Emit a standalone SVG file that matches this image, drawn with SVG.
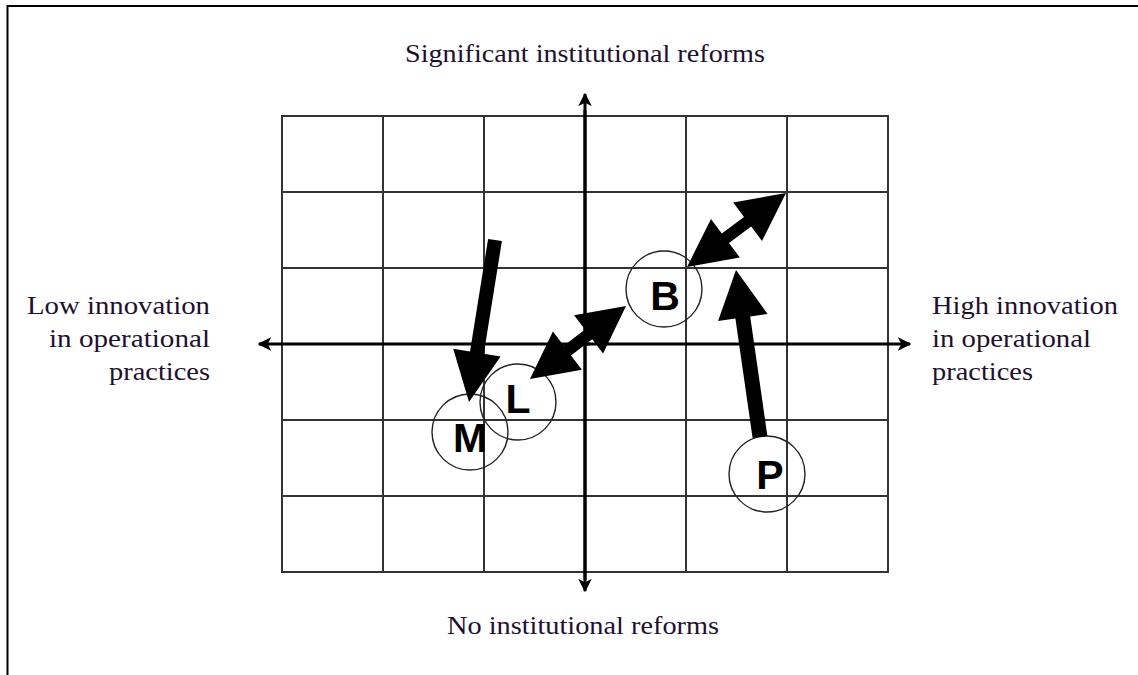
<svg xmlns="http://www.w3.org/2000/svg" width="1138" height="675" viewBox="0 0 1138 675">
<style>
.grid{stroke:#333;stroke-width:2;fill:none}
.axis{stroke:#000;stroke-width:3;fill:none}
.lbl{font-family:"Liberation Serif","Times New Roman",serif;font-size:26px;fill:#1f1030}
.node{fill:none;stroke:#222;stroke-width:1.4}
.ltr{font-family:"Liberation Sans",Arial,sans-serif;font-weight:bold;font-size:41px;fill:#000;text-anchor:middle}
.arr{fill:#000}
</style>
<defs>
<marker id="ah" viewBox="0 0 10 10" refX="9" refY="5" markerWidth="4.5" markerHeight="4.5" orient="auto" markerUnits="strokeWidth">
<path d="M0,0 L10,5 L0,10 L2.5,5 Z" fill="#000"/>
</marker>
</defs>
<rect width="1138" height="675" fill="#fff"/>
<path d="M7.5,675 V6 H1138" stroke="#000" stroke-width="2" fill="none"/>
<g id="grid">
<rect class="grid" x="282" y="116" width="606" height="456"/>
<path class="grid" d="M383,116V572 M484,116V572 M686,116V572 M787,116V572 M282,192H888 M282,268H888 M282,420H888 M282,496H888"/>
</g>
<g id="axes">
<line class="axis" x1="585" y1="580" x2="585" y2="94" marker-end="url(#ah)"/>
<line class="axis" x1="585" y1="110" x2="585" y2="591" marker-end="url(#ah)"/>
<line class="axis" x1="590" y1="344" x2="259" y2="344" marker-end="url(#ah)"/>
<line class="axis" x1="580" y1="344" x2="910" y2="344" marker-end="url(#ah)"/>
</g>
<g id="labels">
<text class="lbl" x="405" y="62" textLength="360" lengthAdjust="spacingAndGlyphs">Significant institutional reforms</text>
<text class="lbl" x="447" y="634" textLength="272" lengthAdjust="spacingAndGlyphs">No institutional reforms</text>
<text class="lbl" x="27" y="314" textLength="183" lengthAdjust="spacingAndGlyphs">Low innovation</text>
<text class="lbl" x="49" y="347" textLength="161" lengthAdjust="spacingAndGlyphs">in operational</text>
<text class="lbl" x="109" y="380" textLength="101" lengthAdjust="spacingAndGlyphs">practices</text>
<text class="lbl" x="932" y="314" textLength="186" lengthAdjust="spacingAndGlyphs">High innovation</text>
<text class="lbl" x="932" y="347" textLength="159" lengthAdjust="spacingAndGlyphs">in operational</text>
<text class="lbl" x="932" y="380" textLength="101" lengthAdjust="spacingAndGlyphs">practices</text>
</g>
<g id="node-B"><circle class="node" cx="664" cy="289" r="38"/><text class="ltr" x="665" y="310">B</text></g>
<g id="node-L"><circle class="node" cx="518" cy="402" r="38"/><text class="ltr" x="518" y="413">L</text></g>
<g id="node-M"><circle class="node" cx="470" cy="432" r="38"/><text class="ltr" x="470" y="452">M</text></g>
<g id="node-P"><circle class="node" cx="767" cy="474" r="38"/><text class="ltr" x="770" y="489">P</text></g>
<g id="connectors">
<polygon class="arr" points="501.9,241.1 483.8,353.7 500.6,356.4 469,402 453.2,348.8 470,351.5 488.1,238.9"/>
<polygon class="arr" points="530,379 581.9,369.7 571,355.4 592.2,339.2 603.1,353.5 626,306 574.1,315.3 585,329.6 563.8,345.8 552.9,331.5"/>
<polygon class="arr" points="687,267 739.8,257.4 729,243 751.2,226.6 762,241 786,193 733.2,202.6 744,217 721.8,233.4 711,219"/>
<polygon class="arr" points="767.4,435.9 750.2,316.4 767.5,313.9 736,270 718.1,321.1 735.4,318.6 752.6,438.1"/>
</g>
</svg>
